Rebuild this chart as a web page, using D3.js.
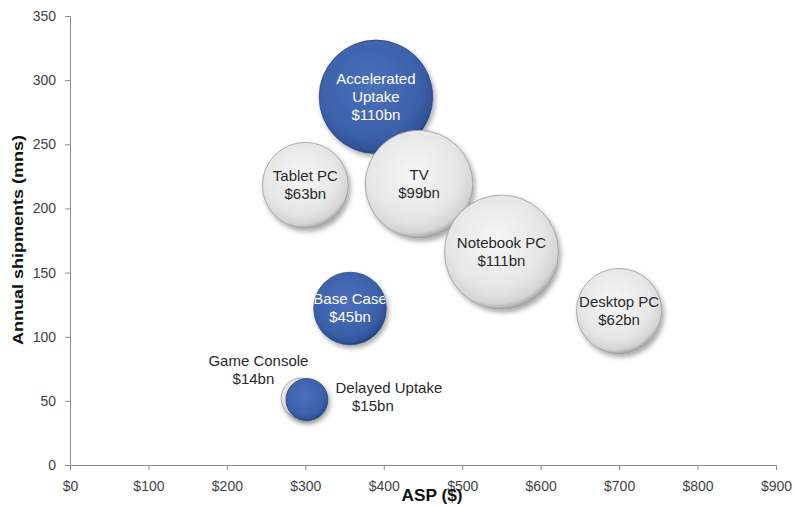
<!DOCTYPE html>
<html><head><meta charset="utf-8">
<script src="https://cdn.jsdelivr.net/npm/d3@7"></script>
<style>body{margin:0;background:#fff;} svg{display:block;font-family:"Liberation Sans",Arial,sans-serif;}</style>
</head><body>
<svg id="c" width="795" height="507"></svg>
<script>
const categories = ["Accelerated Uptake","Tablet PC","TV","Notebook PC","Desktop PC","Base Case","Game Console","Delayed Uptake"];
const labelLines = [["Accelerated","Uptake"],["Tablet PC"],["TV"],["Notebook PC"],["Desktop PC"],["Base Case"],["Game Console"],["Delayed Uptake"]];
const asp = [390, 300, 445, 550, 700, 357, 295, 302];
const shipments = [287, 218, 219, 166, 120, 122, 52, 51];
const revenue = [110, 63, 99, 111, 62, 45, 14, 15];
const revenueLabels = ["$110bn","$63bn","$99bn","$111bn","$62bn","$45bn","$14bn","$15bn"];
const scenario = [true,false,false,false,false,true,false,true];
const xTicks = [0,100,200,300,400,500,600,700,800,900];
const yTicks = [0,50,100,150,200,250,300,350];

const svg = d3.select("#c");
const x = d3.scaleLinear().domain([0,900]).range([70,776]);
const y = d3.scaleLinear().domain([0,350]).range([465,16]);
const r = d3.scaleSqrt().domain([0,111]).range([0,57]);

const defs = svg.append("defs");
const gg = defs.append("radialGradient").attr("id","gGray").attr("cx","45%").attr("cy","40%").attr("r","60%");
gg.append("stop").attr("offset","0%").attr("stop-color","#f6f6f6");
gg.append("stop").attr("offset","70%").attr("stop-color","#e6e6e6");
gg.append("stop").attr("offset","92%").attr("stop-color","#d4d4d4");
gg.append("stop").attr("offset","100%").attr("stop-color","#a8a8a8");
const gb = defs.append("radialGradient").attr("id","gBlue").attr("cx","45%").attr("cy","40%").attr("r","60%");
gb.append("stop").attr("offset","0%").attr("stop-color","#4a6fba");
gb.append("stop").attr("offset","75%").attr("stop-color","#3d61ab");
gb.append("stop").attr("offset","95%").attr("stop-color","#2f5096");
gb.append("stop").attr("offset","100%").attr("stop-color","#23407a");
const f = defs.append("filter").attr("id","sh").attr("x","-30%").attr("y","-30%").attr("width","160%").attr("height","160%");
f.append("feDropShadow").attr("dx",2).attr("dy",3).attr("stdDeviation",2.5).attr("flood-color","#000").attr("flood-opacity",0.35);

// axes
const yAxis = d3.axisLeft(y).tickValues(yTicks).tickSize(5).tickPadding(9);
const xAxis = d3.axisBottom(x).tickValues(xTicks).tickSize(5).tickPadding(11).tickFormat(d=>"$"+d);
const ya = svg.append("g").attr("transform","translate(70,0)").call(yAxis);
const xa = svg.append("g").attr("transform","translate(0,465)").call(xAxis);
[ya,xa].forEach(a=>{
  a.select(".domain").attr("stroke","#8c8c8c");
  a.selectAll(".tick line").attr("stroke","#8c8c8c");
  a.selectAll(".tick text").attr("fill","#444").attr("font-size","14px")
    .attr("font-family","\"Liberation Sans\",Arial,sans-serif");
});

const data = categories.map((c,i)=>({c,i,x:asp[i],y:shipments[i],v:revenue[i],lab:revenueLabels[i],blue:scenario[i],lines:labelLines[i]}));

data.forEach(d=>{
  const cx=x(d.x), cy=y(d.y), rr=r(d.v);
  svg.append("circle").attr("cx",cx).attr("cy",cy).attr("r",rr)
    .attr("fill",d.blue?"url(#gBlue)":"url(#gGray)")
    .attr("stroke",d.blue?"#2a477f":"#9a9a9a").attr("stroke-width",0.8)
    .attr("filter","url(#sh)");
  const inside = !(d.c==="Game Console"||d.c==="Delayed Uptake");
  if(inside){
    defs.append("clipPath").attr("id","cp"+d.i).append("circle").attr("cx",cx).attr("cy",cy).attr("r",rr);
    const lines = d.lines.concat([d.lab]);
    const lh = 18;
    const t = svg.append("text").attr("clip-path","url(#cp"+d.i+")")
      .attr("text-anchor","middle").attr("font-size","15px")
      .attr("fill",d.blue?"#fff":"#2a2a2a");
    lines.forEach((l,k)=>{
      t.append("tspan").attr("x",cx).attr("y",cy+(k-(lines.length-1)/2)*lh+5).text(l);
    });
  }
});
// outside labels
const gc = data.find(d=>d.c==="Game Console");
const du = data.find(d=>d.c==="Delayed Uptake");
const t1 = svg.append("text").attr("text-anchor","middle").attr("font-size","15px").attr("fill","#2a2a2a");
t1.append("tspan").attr("x",x(gc.x)-43).attr("y",y(gc.y)-32).text(gc.lines[0]);
t1.append("tspan").attr("x",x(gc.x)-48).attr("y",y(gc.y)-14).text(gc.lab);
const t2 = svg.append("text").attr("text-anchor","middle").attr("font-size","15px").attr("fill","#2a2a2a");
t2.append("tspan").attr("x",x(du.x)+82).attr("y",y(du.y)-7).text(du.lines[0]);
t2.append("tspan").attr("x",x(du.x)+66).attr("y",y(du.y)+11).text(du.lab);

// axis titles
svg.append("text").attr("x",432).attr("y",501).attr("text-anchor","middle")
  .attr("font-weight","bold").attr("font-size","17px").attr("fill","#111")
  .attr("textLength",61).attr("lengthAdjust","spacingAndGlyphs").text("ASP ($)");
svg.append("text").attr("transform","translate(23,240) rotate(-90)").attr("text-anchor","middle")
  .attr("font-weight","bold").attr("font-size","15px").attr("fill","#111")
  .attr("textLength",210).attr("lengthAdjust","spacingAndGlyphs").text("Annual shipments (mns)");
</script>
</body></html>
